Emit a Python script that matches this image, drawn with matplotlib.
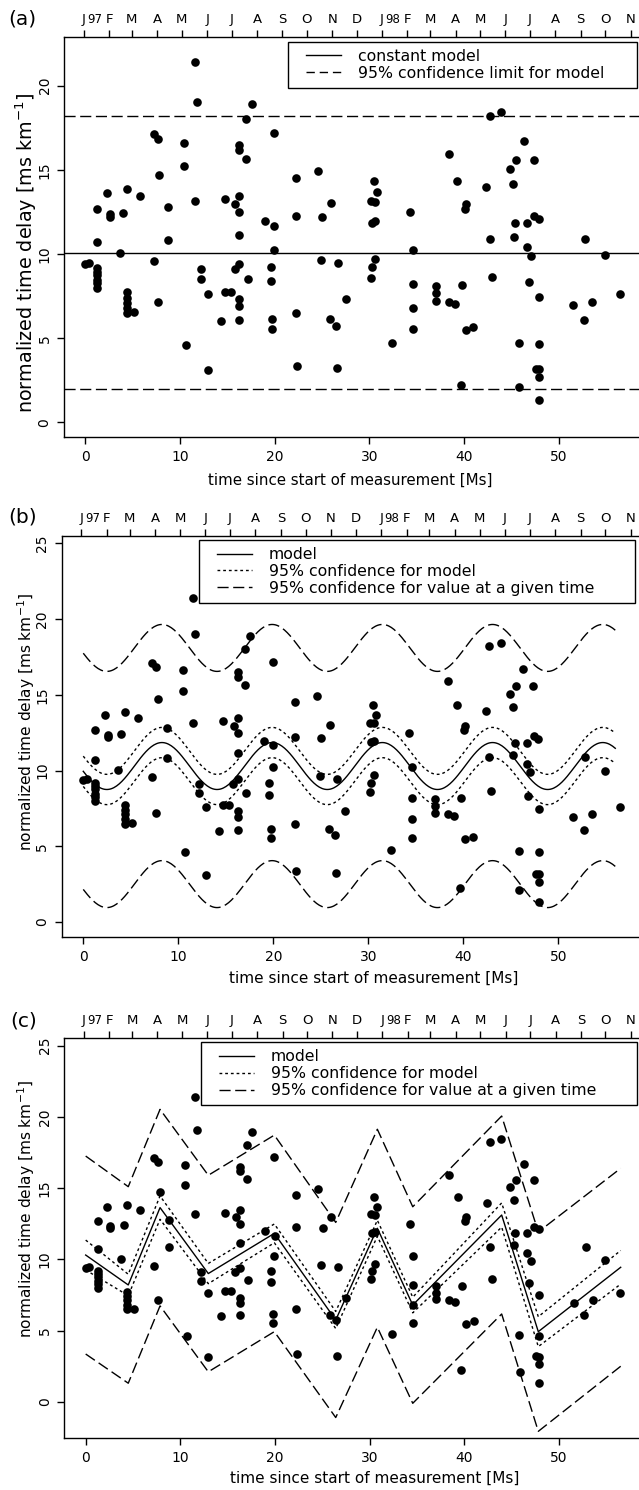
import numpy as np
import matplotlib
matplotlib.use("Agg")
import matplotlib.pyplot as plt
from matplotlib.lines import Line2D
from matplotlib.legend_handler import HandlerLine2D

plt.rcParams["font.family"] = ["DejaVu Sans"]
plt.rcParams["mathtext.default"] = "regular"

W, H = 639, 1490

# measurements: time since start [Ms] and normalized time delay [ms/km]
t_ms = [0.0, 0.35,
        1.27, 1.27, 1.27, 1.27, 1.27, 1.27, 1.27, 1.27,
        2.29, 2.6, 2.6, 3.7, 4.01, 4.4,
        4.4, 4.4, 4.4, 4.4, 4.4, 5.14, 5.77,
        7.25, 7.25, 7.64, 7.82, 7.64, 8.77, 8.77,
        10.46, 10.46, 10.67, 11.58, 11.8, 11.58,
        12.18, 12.18, 12.92, 12.92,
        14.3, 14.72, 14.72, 15.35, 15.85, 15.8,
        16.27, 16.27, 16.27, 16.27, 16.27, 16.27, 16.27, 16.27, 16.27,
        17.0, 17.0, 17.6, 17.15,
        19.0, 19.93, 19.96, 19.93, 19.6, 19.6, 19.75, 19.75,
        22.25, 22.25, 22.25, 22.36,
        24.58, 25.04, 24.9, 25.92, 25.82,
        26.48, 26.66, 26.56, 27.5,
        30.49, 30.84, 30.2, 30.6, 30.25, 30.6, 30.56, 30.28, 30.14,
        32.43,
        34.25, 34.6, 34.6, 34.6, 34.57,
        37.03, 37.03, 37.03,
        38.44, 38.4, 39.03, 39.31, 39.77, 39.67,
        40.23, 40.12, 40.19, 41.0,
        42.72, 43.92, 42.37, 42.72, 42.97,
        44.9, 45.22, 45.5, 45.4, 45.25, 46.3, 45.82, 45.86,
        47.36, 46.66, 46.66, 47.05, 46.84,
        47.43, 47.89, 47.92, 47.92, 47.64, 47.96, 47.96, 47.92,
        51.58, 52.85, 52.67, 53.59, 54.89, 56.47]
delay = [9.39, 9.45,
         12.7, 10.73, 9.15, 8.95, 8.75, 8.46, 8.26, 7.96,
         13.64, 12.36, 12.22, 10.04, 12.42, 13.84,
         7.72, 7.41, 7.11, 6.77, 6.48, 6.53, 13.47,
         9.56, 17.13, 16.81, 14.71, 7.17, 12.79, 10.83,
         16.61, 15.23, 4.61, 21.43, 19.05, 13.15,
         9.13, 8.5, 7.6, 3.11,
         6.0, 13.25, 7.74, 7.74, 12.95, 9.11,
         16.48, 16.18, 13.47, 12.5, 11.13, 9.41, 7.31, 6.91, 6.1,
         15.64, 18.0, 18.91, 8.53,
         11.98, 17.17, 11.66, 10.26, 9.21, 8.4, 6.16, 5.52,
         14.5, 12.24, 6.5, 3.35,
         14.93, 12.18, 9.62, 13.0, 6.12,
         5.74, 9.45, 3.23, 7.31,
         14.36, 13.68, 13.15, 13.11, 11.86, 11.94, 9.68, 9.21, 8.59,
         4.73,
         12.51, 10.22, 8.22, 6.77, 5.52,
         8.1, 7.66, 7.19,
         15.92, 7.15, 7.01, 14.36, 8.16, 2.22,
         12.97, 12.69, 5.49, 5.64,
         18.22, 18.42, 13.96, 10.87, 8.63,
         15.05, 14.18, 15.56, 11.84, 11.01, 16.69, 4.71, 2.08,
         15.56, 11.84, 10.42, 9.88, 8.34,
         12.28, 12.1, 7.47, 4.65, 3.19, 3.15, 2.67, 1.31,
         6.95, 10.89, 6.06, 7.15, 9.96, 7.6]

# calendar axis: Jan 1997 .. Nov 1998
month_names = ["J", "F", "M", "A", "M", "J", "J", "A", "S", "O", "N", "D",
               "J", "F", "M", "A", "M", "J", "J", "A", "S", "O", "N"]
month_start_day = [0, 31, 59, 90, 120, 151, 181, 212, 243, 273, 304, 334,
                   365, 396, 424, 455, 485, 516, 546, 577, 608, 638, 669]
year_tags = {0: "97", 12: "98"}
jan1_ms = -0.19
MS_PER_DAY = 0.0864

# (a) constant model and its 95% limits
const_model = 10.08
const_limits = [2.0, 18.22]

# (b) periodic model
sin_mean = 10.3
sin_amp = 1.55
sin_period = 11.6
sin_peak = 8.28
sin_ci = 1.0
sin_pi = 7.8
sin_span = [0.0, 56.0]

# (c) piecewise linear model at its knots
knot_x = [0.0, 4.5, 7.86, 12.96, 19.94, 26.43, 30.83, 34.57, 43.97, 47.84, 56.55]
knot_y = [10.3, 8.2, 13.63, 9.0, 11.82, 5.74, 12.18, 6.79, 13.11, 4.92, 9.44]
knot_ci = [1.05, 0.75, 0.82, 0.71, 0.66, 0.6, 0.56, 0.55, 0.85, 1.05, 1.18]
knot_pi = [6.95, 6.9, 6.9, 6.9, 6.9, 6.85, 6.95, 6.9, 6.95, 7.0, 6.95]

LW = 1.0
DASH = (0, (8.0, 3.3))
DOT = (0, (2.0, 2.1))
XLIM = (-2.26, 58.76)

fig = plt.figure(figsize=(W / 100, H / 100), dpi=100)


def px_axes(left, top, right, bottom):
    return fig.add_axes([left / W, 1 - bottom / H, (right - left) / W, (bottom - top) / H])


def style_axes(ax, ylim, yticks, ylab_size, xlab_size, ylab_y, xlab_pos):
    ax.set_xlim(XLIM)
    ax.set_ylim(ylim)
    ax.set_xticks([0, 10, 20, 30, 40, 50])
    ax.set_yticks(yticks)
    ax.tick_params(direction="out", length=5, width=LW, labelsize=10)
    ax.tick_params(axis="x", pad=4.5)
    ax.tick_params(axis="y", pad=4, labelrotation=90)
    plt.setp(ax.get_yticklabels(), va="center")
    for s in ax.spines.values():
        s.set_linewidth(LW)
    ax.set_ylabel("normalized time delay [ms km$^{-1}$]", fontsize=ylab_size)
    ax.yaxis.label.set_va("center")
    bb = ax.get_position()
    ax_top_px = (1 - bb.y1) * H
    ax_h_px = bb.height * H
    ax.yaxis.set_label_coords((26 - bb.x0 * W) / (bb.width * W),
                              1 - (ylab_y - ax_top_px) / ax_h_px)
    ax.set_xlabel("time since start of measurement [Ms]", fontsize=xlab_size)
    ax.xaxis.label.set_va("center")
    ax.xaxis.set_label_coords((xlab_pos[0] - bb.x0 * W) / (bb.width * W),
                              1 - (xlab_pos[1] - ax_top_px) / ax_h_px)

    # calendar months along the top
    top = ax.twiny()
    top.set_xlim(XLIM)
    ticks = [jan1_ms + d * MS_PER_DAY for d in month_start_day]
    top.set_xticks(ticks, labels=month_names)
    top.tick_params(axis="x", direction="out", length=5, width=LW, pad=3, labelsize=9.5)
    for s in top.spines.values():
        s.set_visible(False)
    for i, tag in year_tags.items():
        top.annotate(tag, xy=(ticks[i], 1), xycoords=("data", "axes fraction"),
                     xytext=(2.6, 8), textcoords="offset points",
                     ha="left", va="bottom", fontsize=8.5)


def add_legend(ax, handles, labels, left, top, right):
    fs = 11.3
    fs_px = fs * 100 / 72
    extra = 11.0
    leg = ax.legend(handles, labels, loc="upper left",
                    bbox_to_anchor=(left / W, 0, (right - left) / W, 1 - top / H),
                    bbox_transform=fig.transFigure, mode="expand", borderaxespad=0,
                    fancybox=False, edgecolor="black", framealpha=1, fontsize=fs,
                    handlelength=(35 + extra) / fs_px, handletextpad=1.05,
                    borderpad=0.45, labelspacing=0.12,
                    handler_map={Line2D: HandlerLine2D(xpad=extra / fs_px)})
    leg.get_frame().set_linewidth(LW)
    return leg


def scatter(ax):
    ax.plot(t_ms, delay, "o", color="black", markersize=6.2, markeredgewidth=0,
            linestyle="none", zorder=3)


# ---------------- (a) ----------------
ax_a = px_axes(64.1, 37.2, 641.4, 437.1)
scatter(ax_a)
ax_a.axhline(const_model, color="black", lw=LW)
for lim in const_limits:
    ax_a.axhline(lim, color="black", lw=LW, linestyle=DASH)
style_axes(ax_a, (-0.88, 22.88), [0, 5, 10, 15, 20], 13.8, 10.8, 253, (350, 480))
add_legend(ax_a,
           [Line2D([], [], color="black", lw=LW),
            Line2D([], [], color="black", lw=LW, linestyle=(0, (6, 3.5)))],
           ["constant model", "95% confidence limit for model"],
           288.3, 41.7, 636.7)
fig.text(8 / W, 1 - 19 / H, "(a)", fontsize=14.5, ha="left", va="center")

# ---------------- (b) ----------------
ax_b = px_axes(61.8, 536.2, 641.5, 936.8)
scatter(ax_b)
xs = np.linspace(sin_span[0], sin_span[1], 400)
model_b = sin_mean + sin_amp * np.cos(2 * np.pi * (xs - sin_peak) / sin_period)
ax_b.plot(xs, model_b, color="black", lw=LW)
for sgn in (1, -1):
    ax_b.plot(xs, model_b + sgn * sin_ci, color="black", lw=LW, linestyle=DOT)
    ax_b.plot(xs, model_b + sgn * sin_pi, color="black", lw=LW, linestyle=DASH)
style_axes(ax_b, (-0.98, 25.48), [0, 5, 10, 15, 20, 25], 11.1, 11, 722, (374, 978))
leg_handles = [Line2D([], [], color="black", lw=LW),
               Line2D([], [], color="black", lw=LW, linestyle=DOT),
               Line2D([], [], color="black", lw=LW, linestyle=DASH)]
leg_labels = ["model", "95% confidence for model",
              "95% confidence for value at a given time"]
add_legend(ax_b, leg_handles, leg_labels, 199.3, 540, 635)
fig.text(8 / W, 1 - 517 / H, "(b)", fontsize=14.5, ha="left", va="center")

# ---------------- (c) ----------------
ax_c = px_axes(64.3, 1038.0, 641.6, 1437.9)
scatter(ax_c)
kx = np.array(knot_x)
ky = np.array(knot_y)
ax_c.plot(kx, ky, color="black", lw=LW)
for sgn in (1, -1):
    ax_c.plot(kx, ky + sgn * np.array(knot_ci), color="black", lw=LW, linestyle=DOT)
    ax_c.plot(kx, ky + sgn * np.array(knot_pi), color="black", lw=LW, linestyle=DASH)
style_axes(ax_c, (-2.54, 25.54), [0, 5, 10, 15, 20, 25], 11.1, 11, 1209, (375, 1478))
add_legend(ax_c, leg_handles, leg_labels, 201.3, 1042.3, 636.7)
fig.text(10 / W, 1 - 1021 / H, "(c)", fontsize=14.5, ha="left", va="center")

fig.savefig("out.png", dpi=100)
